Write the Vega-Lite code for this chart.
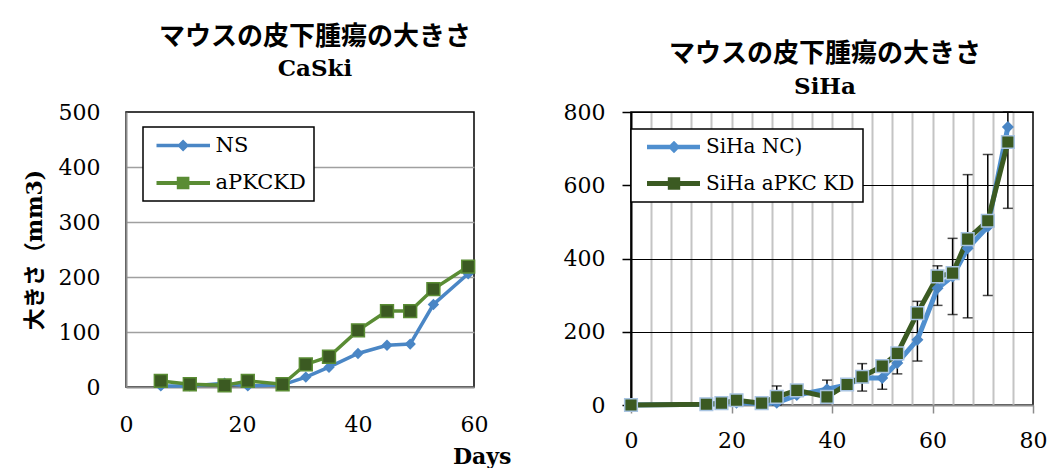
{
  "$schema": "https://vega.github.io/schema/vega-lite/v6.json",
  "background": "white",
  "padding": {"left": 22, "top": 23, "right": 5, "bottom": 0},
  "bounds": "flush",
  "spacing": 157,
  "resolve": {
    "scale": {"color": "independent", "shape": "independent"},
    "legend": {"color": "independent", "shape": "independent"}
  },
  "config": {
    "view": {"stroke": "black", "strokeWidth": 1.5},
    "legend": {"strokeWidth": 1.5},
    "axis": {"labelFlush": false, "labelOverlap": false}
  },
  "datasets": {
    "caski": [
      {"day": 6, "size": 2, "series": "NS"},
      {"day": 11, "size": 2, "series": "NS"},
      {"day": 17, "size": 7, "series": "NS"},
      {"day": 21, "size": 2, "series": "NS"},
      {"day": 27, "size": 4, "series": "NS"},
      {"day": 31, "size": 18, "series": "NS"},
      {"day": 35, "size": 36, "series": "NS"},
      {"day": 40, "size": 61, "series": "NS"},
      {"day": 45, "size": 76, "series": "NS"},
      {"day": 49, "size": 78, "series": "NS"},
      {"day": 53, "size": 150, "series": "NS"},
      {"day": 59, "size": 206, "series": "NS"},
      {"day": 6, "size": 11, "series": "aPKCKD"},
      {"day": 11, "size": 5, "series": "aPKCKD"},
      {"day": 17, "size": 3, "series": "aPKCKD"},
      {"day": 21, "size": 11, "series": "aPKCKD"},
      {"day": 27, "size": 5, "series": "aPKCKD"},
      {"day": 31, "size": 41, "series": "aPKCKD"},
      {"day": 35, "size": 55, "series": "aPKCKD"},
      {"day": 40, "size": 103, "series": "aPKCKD"},
      {"day": 45, "size": 138, "series": "aPKCKD"},
      {"day": 49, "size": 138, "series": "aPKCKD"},
      {"day": 53, "size": 178, "series": "aPKCKD"},
      {"day": 59, "size": 219, "series": "aPKCKD"}
    ],
    "siha": [
      {"day": 0, "size": 0, "series": "SiHa NC)"},
      {"day": 15, "size": 2, "series": "SiHa NC)"},
      {"day": 18, "size": 4, "series": "SiHa NC)"},
      {"day": 21, "size": 6, "series": "SiHa NC)"},
      {"day": 26, "size": 4, "series": "SiHa NC)"},
      {"day": 29, "size": 6, "series": "SiHa NC)"},
      {"day": 33, "size": 27, "series": "SiHa NC)"},
      {"day": 39, "size": 43, "series": "SiHa NC)"},
      {"day": 43, "size": 55, "series": "SiHa NC)"},
      {"day": 46, "size": 74, "series": "SiHa NC)"},
      {"day": 50, "size": 74, "series": "SiHa NC)"},
      {"day": 53, "size": 115, "series": "SiHa NC)"},
      {"day": 57, "size": 178, "series": "SiHa NC)"},
      {"day": 61, "size": 319, "series": "SiHa NC)"},
      {"day": 64, "size": 351, "series": "SiHa NC)"},
      {"day": 67, "size": 428, "series": "SiHa NC)"},
      {"day": 71, "size": 487, "series": "SiHa NC)"},
      {"day": 75, "size": 759, "series": "SiHa NC)"},
      {"day": 0, "size": 0, "series": "SiHa aPKC KD"},
      {"day": 15, "size": 2, "series": "SiHa aPKC KD"},
      {"day": 18, "size": 5, "series": "SiHa aPKC KD"},
      {"day": 21, "size": 13, "series": "SiHa aPKC KD"},
      {"day": 26, "size": 5, "series": "SiHa aPKC KD"},
      {"day": 29, "size": 22, "series": "SiHa aPKC KD"},
      {"day": 33, "size": 40, "series": "SiHa aPKC KD"},
      {"day": 39, "size": 22, "series": "SiHa aPKC KD"},
      {"day": 43, "size": 56, "series": "SiHa aPKC KD"},
      {"day": 46, "size": 77, "series": "SiHa aPKC KD"},
      {"day": 50, "size": 106, "series": "SiHa aPKC KD"},
      {"day": 53, "size": 141, "series": "SiHa aPKC KD"},
      {"day": 57, "size": 251, "series": "SiHa aPKC KD"},
      {"day": 61, "size": 351, "series": "SiHa aPKC KD"},
      {"day": 64, "size": 360, "series": "SiHa aPKC KD"},
      {"day": 67, "size": 453, "series": "SiHa aPKC KD"},
      {"day": 71, "size": 503, "series": "SiHa aPKC KD"},
      {"day": 75, "size": 718, "series": "SiHa aPKC KD"}
    ],
    "siha_err": [
      {"day": 29, "lo": -48, "hi": 52},
      {"day": 39, "lo": 18, "hi": 68},
      {"day": 46, "lo": 38, "hi": 113},
      {"day": 50, "lo": 43, "hi": 103},
      {"day": 53, "lo": 85, "hi": 145},
      {"day": 57, "lo": 120, "hi": 283},
      {"day": 61, "lo": 272, "hi": 380},
      {"day": 64, "lo": 247, "hi": 455},
      {"day": 67, "lo": 238, "hi": 629},
      {"day": 71, "lo": 299, "hi": 684},
      {"day": 75, "lo": 537, "hi": 981}
    ]
  },
  "hconcat": [
    {
      "width": 348,
      "height": 275,
      "title": {
        "text": "マウスの皮下腫瘍の大きさ",
        "subtitle": "CaSki",
        "font": "Noto Sans CJK JP",
        "fontSize": 26,
        "fontWeight": "bold",
        "color": "black",
        "subtitleFont": "DejaVu Serif",
        "subtitleFontSize": 23,
        "subtitleFontWeight": "bold",
        "subtitleColor": "black",
        "subtitlePadding": 8,
        "anchor": "middle",
        "dx": 15,
        "offset": 20
      },
      "data": {"name": "caski"},
      "encoding": {
        "x": {
          "field": "day", "type": "quantitative",
          "scale": {"domain": [0, 60], "nice": false},
          "axis": {
            "values": [0, 20, 40, 60], "grid": false, "ticks": false,
            "domainColor": "#8c8c8c", "domainWidth": 2,
            "labelFont": "DejaVu Serif", "labelFontSize": 22, "labelColor": "black", "labelPadding": 27,
            "title": "Days", "titleFont": "DejaVu Serif", "titleFontSize": 22, "titleFontWeight": "bold",
            "titleColor": "black", "titleAlign": "right", "titleX": 385, "titleY": 76, "titleBaseline": "alphabetic"
          }
        },
        "y": {
          "field": "size", "type": "quantitative",
          "scale": {"domain": [0, 500], "nice": false},
          "axis": {
            "values": [0, 100, 200, 300, 400, 500],
            "gridColor": {"condition": {"test": "datum.value === 0 || datum.value === 500", "value": "transparent"}, "value": "#a0a0a0"},
            "gridWidth": 1.5, "ticks": false,
            "domainColor": "#8c8c8c", "domainWidth": 2,
            "labelFont": "DejaVu Serif", "labelFontSize": 22, "labelColor": "black", "labelPadding": 26,
            "title": "大きさ（mm3)", "titleFont": "DejaVu Serif, Noto Sans CJK JP", "titleFontSize": 22,
            "titleFontWeight": "bold", "titleColor": "black", "titlePadding": 12
          }
        }
      },
      "layer": [
        {
          "mark": {"type": "line", "strokeWidth": 3.5},
          "encoding": {
            "color": {"field": "series", "type": "nominal", "scale": {"domain": ["NS", "aPKCKD"], "range": ["#4A86C5", "#5A8C34"]},
              "legend": {"title": null, "orient": "none", "legendX": 17, "legendY": 15, "symbolSize": 400, "symbolStrokeWidth": 0, "symbolOffset": 5,
                "labelFont": "DejaVu Serif", "labelFontSize": 21, "labelColor": "black", "labelOffset": 38.5, "labelLimit": 400,
                "padding": 8, "rowPadding": 15.5, "strokeColor": "black", "fillColor": "white"}}
          }
        },
        {
          "transform": [{"filter": "datum.series === 'NS'"}],
          "mark": {"type": "point", "shape": "diamond", "filled": true, "size": 130, "color": "#4A86C5", "opacity": 1}
        },
        {
          "transform": [{"filter": "datum.series === 'aPKCKD'"}],
          "mark": {"type": "point", "shape": "square", "filled": true, "size": 165, "fill": "#3B5A22", "stroke": "#5A8C34", "strokeWidth": 1.5, "opacity": 1}
        },
        {
          "mark": {"type": "point", "filled": true, "size": 0, "opacity": 1},
          "encoding": {
            "color": {
              "field": "series", "type": "nominal",
              "scale": {"domain": ["NS", "aPKCKD"], "range": ["#4A86C5", "#5A8C34"]},
              "legend": {"title": null, "orient": "none", "legendX": 17, "legendY": 15, "symbolSize": 400, "symbolStrokeWidth": 0, "symbolOffset": 5,
                "labelFont": "DejaVu Serif", "labelFontSize": 21, "labelColor": "black", "labelOffset": 38.5, "labelLimit": 400,
                "padding": 8, "rowPadding": 15.5, "strokeColor": "black", "fillColor": "white"}
            },
            "shape": {
              "field": "series", "type": "nominal",
              "scale": {"domain": ["NS", "aPKCKD"], "range": [
                "M-1,-0.175H4.35V0.175H-1Z M1.66,-0.6L2.26,0L1.66,0.6L1.06,0Z",
                "M-1,-0.2H4.35V0.2H-1Z M1.03,-0.63H2.29V0.63H1.03Z"
              ]},
              "legend": {"title": null, "orient": "none", "legendX": 17, "legendY": 15, "symbolSize": 400, "symbolStrokeWidth": 0, "symbolOffset": 5,
                "labelFont": "DejaVu Serif", "labelFontSize": 21, "labelColor": "black", "labelOffset": 38.5, "labelLimit": 400,
                "padding": 8, "rowPadding": 15.5, "strokeColor": "black", "fillColor": "white"}
            }
          }
        }
      ]
    },
    {
      "width": 402,
      "height": 293,
      "title": {
        "text": "マウスの皮下腫瘍の大きさ",
        "subtitle": "SiHa",
        "font": "Noto Sans CJK JP",
        "fontSize": 26,
        "fontWeight": "bold",
        "color": "black",
        "subtitleFont": "DejaVu Serif",
        "subtitleFontSize": 23,
        "subtitleFontWeight": "bold",
        "subtitleColor": "black",
        "subtitlePadding": 9,
        "anchor": "middle",
        "dx": -7,
        "offset": 2
      },
      "data": {"name": "siha"},
      "encoding": {
        "x": {
          "field": "day", "type": "quantitative",
          "scale": {"domain": [0, 80], "nice": false},
          "axis": {
            "values": [0, 4, 8, 12, 16, 20, 24, 28, 32, 36, 40, 44, 48, 52, 56, 60, 64, 68, 72, 76, 80],
            "labelExpr": "datum.value % 20 === 0 ? datum.label : ''",
            "gridColor": {"condition": {"test": "datum.value === 0 || datum.value === 80", "value": "transparent"}, "value": "#c4c4c4"},
            "gridWidth": 2,
            "tickColor": {"condition": {"test": "datum.value % 20 === 0", "value": "#8c8c8c"}, "value": "transparent"},
            "tickSize": 8, "tickWidth": 1.5,
            "domainColor": "#8c8c8c", "domainWidth": 2,
            "labelFont": "DejaVu Serif", "labelFontSize": 22, "labelColor": "black", "labelPadding": 17,
            "title": null
          }
        },
        "y": {
          "field": "size", "type": "quantitative",
          "scale": {"domain": [0, 800], "nice": false, "clamp": true},
          "axis": {
            "values": [0, 200, 400, 600, 800],
            "gridColor": {"condition": {"test": "datum.value === 0", "value": "transparent"}, "value": "black"},
            "gridWidth": 1,
            "tickColor": "black", "tickSize": 9, "tickWidth": 1.5,
            "domainColor": "black", "domainWidth": 2,
            "labelFont": "DejaVu Serif", "labelFontSize": 22, "labelColor": "black", "labelPadding": 17,
            "title": null
          }
        }
      },
      "layer": [
        {
          "data": {"name": "siha_err"},
          "mark": {"type": "errorbar", "color": "black", "thickness": 1.5, "ticks": {"size": 10, "color": "black"}, "rule": {"color": "black"}},
          "encoding": {
            "y": {"field": "lo", "type": "quantitative", "scale": {"domain": [0, 800], "nice": false, "clamp": true}},
            "y2": {"field": "hi"}
          }
        },
        {
          "mark": {"type": "line", "strokeWidth": 5},
          "encoding": {
            "color": {"field": "series", "type": "nominal", "scale": {"domain": ["SiHa NC)", "SiHa aPKC KD"], "range": ["#4F8FCF", "#3B5A22"]},
              "legend": {"title": null, "orient": "none", "legendX": 0, "legendY": 17, "symbolSize": 400, "symbolStrokeWidth": 0, "symbolOffset": 8,
                "labelFont": "DejaVu Serif", "labelFontSize": 20, "labelColor": "black", "labelOffset": 39, "labelLimit": 400,
                "labelExpr": "datum.label + '\u00a0\u00a0'",
                "padding": 8, "rowPadding": 16.5, "strokeColor": "black", "fillColor": "white"}}
          }
        },
        {
          "transform": [{"filter": "datum.series === 'SiHa NC)'"}],
          "mark": {"type": "point", "shape": "diamond", "filled": true, "size": 144, "color": "#4A86C5", "opacity": 1}
        },
        {
          "transform": [{"filter": "datum.series === 'SiHa aPKC KD'"}],
          "mark": {"type": "point", "shape": "square", "filled": true, "size": 160, "fill": "#3B5A22", "stroke": "#A8C4E2", "strokeWidth": 1.5, "opacity": 1}
        },
        {
          "mark": {"type": "point", "filled": true, "size": 0, "opacity": 1},
          "encoding": {
            "color": {
              "field": "series", "type": "nominal",
              "scale": {"domain": ["SiHa NC)", "SiHa aPKC KD"], "range": ["#4F8FCF", "#3B5A22"]},
              "legend": {"title": null, "orient": "none", "legendX": 0, "legendY": 17, "symbolSize": 400, "symbolStrokeWidth": 0, "symbolOffset": 8,
                "labelFont": "DejaVu Serif", "labelFontSize": 20, "labelColor": "black", "labelOffset": 39, "labelLimit": 400,
                "labelExpr": "datum.label + '\u00a0\u00a0'",
                "padding": 8, "rowPadding": 16.5, "strokeColor": "black", "fillColor": "white"}
            },
            "shape": {
              "field": "series", "type": "nominal",
              "scale": {"domain": ["SiHa NC)", "SiHa aPKC KD"], "range": [
                "M-1,-0.22H4.3V0.22H-1Z M1.7,-0.62L2.32,0L1.7,0.62L1.08,0Z",
                "M-1,-0.25H4.3V0.25H-1Z M1.08,-0.62H2.32V0.62H1.08Z"
              ]},
              "legend": {"title": null, "orient": "none", "legendX": 0, "legendY": 17, "symbolSize": 400, "symbolStrokeWidth": 0, "symbolOffset": 8,
                "labelFont": "DejaVu Serif", "labelFontSize": 20, "labelColor": "black", "labelOffset": 39, "labelLimit": 400,
                "labelExpr": "datum.label + '\u00a0\u00a0'",
                "padding": 8, "rowPadding": 16.5, "strokeColor": "black", "fillColor": "white"}
            }
          }
        }
      ]
    }
  ]
}
